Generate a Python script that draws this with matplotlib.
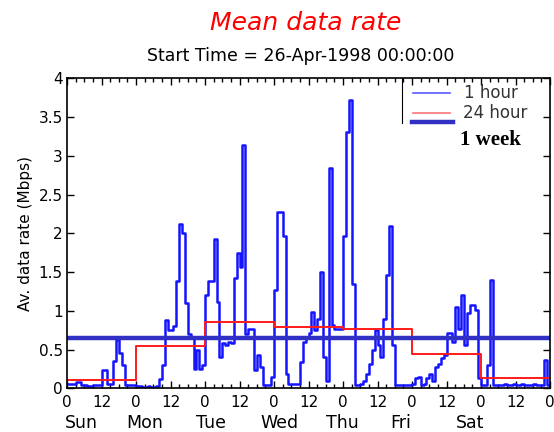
import numpy as np
import matplotlib.pyplot as plt
from matplotlib.ticker import MultipleLocator

# Tasa media por hora (Mbps), una semana desde el domingo 00:00
tasa_dom = [0.05, 0.05, 0.05, 0.08, 0.08, 0.04, 0.04, 0.03, 0.03, 0.04, 0.04, 0.04,
            0.23, 0.23, 0.06, 0.05, 0.35, 0.62, 0.45, 0.30, 0.04, 0.04, 0.04, 0.04]
tasa_lun = [0.03, 0.03, 0.02, 0.02, 0.03, 0.02, 0.02, 0.03, 0.12, 0.30, 0.88, 0.75,
            0.75, 0.80, 1.38, 2.12, 2.00, 1.10, 0.70, 0.65, 0.25, 0.50, 0.25, 0.30]
tasa_mar = [1.20, 1.38, 1.38, 1.93, 1.12, 0.41, 0.58, 0.56, 0.60, 0.58, 1.42, 1.74,
            1.57, 3.14, 0.70, 0.77, 0.77, 0.24, 0.43, 0.28, 0.04, 0.04, 0.04, 0.15]
tasa_mie = [1.27, 2.28, 2.28, 1.96, 0.19, 0.06, 0.06, 0.06, 0.06, 0.34, 0.60, 0.65,
            0.71, 0.99, 0.75, 0.90, 1.50, 0.41, 0.09, 2.84, 0.82, 0.77, 0.77, 0.77]
tasa_jue = [1.96, 3.31, 3.72, 1.35, 0.04, 0.04, 0.06, 0.10, 0.19, 0.32, 0.49, 0.75,
            0.56, 0.41, 0.90, 1.46, 2.09, 0.56, 0.04, 0.04, 0.04, 0.04, 0.04, 0.04]
tasa_vie = [0.06, 0.13, 0.15, 0.04, 0.06, 0.13, 0.19, 0.09, 0.28, 0.32, 0.39, 0.43,
            0.71, 0.71, 0.60, 1.05, 0.77, 1.20, 0.56, 0.97, 1.07, 1.07, 1.01, 0.13]
tasa_sab = [0.04, 0.04, 0.30, 1.40, 0.04, 0.04, 0.04, 0.04, 0.05, 0.04, 0.04, 0.05,
            0.04, 0.04, 0.05, 0.04, 0.04, 0.04, 0.05, 0.04, 0.04, 0.04, 0.37, 0.04]

# Promedio de 24 horas y de la semana
tasa_dia = [0.11, 0.55, 0.85, 0.79, 0.77, 0.44, 0.13]
tasa_semana = 0.645

dias = ['Sun', 'Mon', 'Tue', 'Wed', 'Thu', 'Fri', 'Sat']
dias_x = [5.1, 26.9, 50.2, 73.8, 95.7, 115.9, 140.1]
etiquetas_hora = ['0', '12'] * 7 + ['0']
marcas_y = [0, 0.5, 1, 1.5, 2, 2.5, 3, 3.5, 4]
etiquetas_y = ['0', '0.5', '1', '1.5', '2', '2.5', '3', '3.5', '4']

tasa_hora = tasa_dom + tasa_lun + tasa_mar + tasa_mie + tasa_jue + tasa_vie + tasa_sab
horas = np.arange(len(tasa_hora) + 1)
horas_dia = np.arange(len(tasa_dia) + 1) * 24

azul = '#1414ff'
rojo = '#ff1a1a'
azul_semana = '#3030c4'

fig = plt.figure(figsize=(5.54, 4.32), dpi=100)
ax = fig.add_axes([67 / 554, 1 - 388.3 / 432, 483 / 554, 310 / 432])

ax.plot(horas, tasa_hora + [tasa_hora[-1]], drawstyle='steps-post', color=azul, lw=1.8)
ax.plot(horas_dia, tasa_dia + [tasa_dia[-1]], drawstyle='steps-post', color=rojo, lw=1.4)
ax.axhline(tasa_semana, color=azul_semana, lw=3.2)

ax.set_xticks(np.arange(0, 169, 12))
ax.set_xticklabels(etiquetas_hora)
ax.xaxis.set_minor_locator(MultipleLocator(3))
ax.set_yticks(marcas_y)
ax.set_yticklabels(etiquetas_y)
ax.set_xlim(0, 168)
ax.set_ylim(0, 4)
ax.tick_params(which='both', direction='in', top=True, right=True, labelsize=11)
ax.tick_params(which='major', length=5, width=1)
ax.tick_params(which='minor', length=3, width=1)
ax.tick_params(axis='x', pad=5)
ax.tick_params(axis='y', pad=3)
for lado in ax.spines.values():
    lado.set_linewidth(1.2)

# nombres de los dias debajo de las horas
for nombre, xd in zip(dias, dias_x):
    ax.text(xd, -0.112, nombre, transform=ax.get_xaxis_transform(),
            ha='center', va='center', fontsize=12.5)

ax.set_ylabel('Av. data rate (Mbps)', fontsize=11, labelpad=4)

fig.text(0.552, 1 - 23 / 432, 'Mean data rate', color='red', style='italic',
         fontsize=18, ha='center', va='center')
fig.text(0.542, 1 - 56 / 432, 'Start Time = 26-Apr-1998 00:00:00',
         fontsize=12.5, ha='center', va='center')

# leyenda dibujada a mano (la entrada de 1 semana va pegada abajo)
ta = ax.transAxes
ax.plot([0.6936, 0.6936], [1.0, 0.856], color='black', lw=0.8, transform=ta)
ax.plot([0.716, 0.793], [0.9535, 0.9535], color=azul, lw=1.2, alpha=0.7, transform=ta)
ax.plot([0.716, 0.793], [0.889, 0.889], color=rojo, lw=1.2, alpha=0.6, transform=ta)
ax.plot([0.714, 0.799], [0.858, 0.858], color=azul_semana, lw=3.2, transform=ta)
ax.text(0.822, 0.9535, '1 hour', transform=ta, va='center', fontsize=12, color='#333333')
ax.text(0.820, 0.889, '24 hour', transform=ta, va='center', fontsize=12, color='#333333')
ax.text(0.814, 0.801, '1 week', transform=ta, va='center', fontsize=15,
        family='Liberation Serif', weight='bold')

fig.savefig('out.png', dpi=100)
